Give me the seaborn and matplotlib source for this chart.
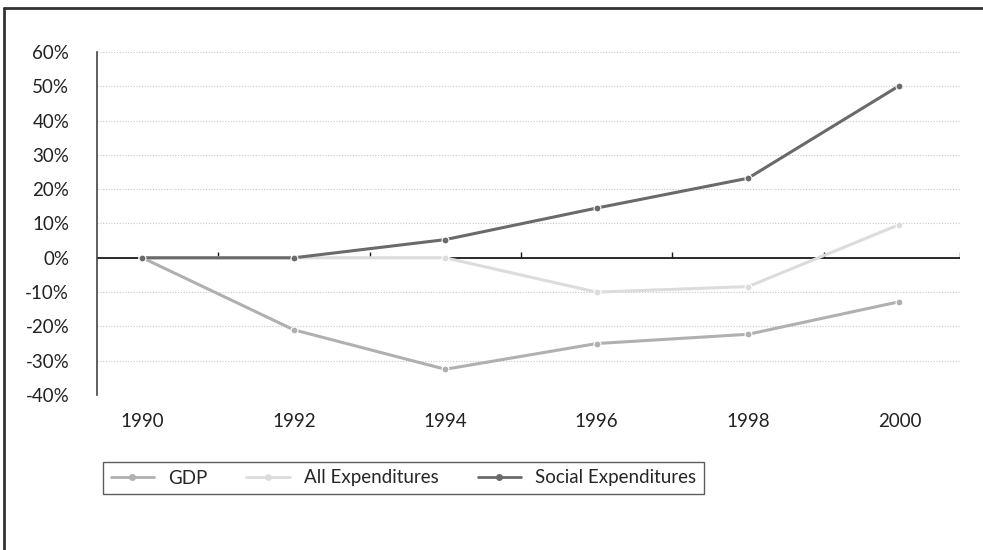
import matplotlib
matplotlib.use("Agg")
import matplotlib.pyplot as plt
import matplotlib.lines as mlines
import numpy as np
import pandas as pd
import seaborn as sns

years = [1990, 1992, 1994, 1996, 1998, 2000]
gdp = [0, -21, -32.5, -25, -22.3, -12.8]
all_exp = [0, 0, 0, -10, -8.4, 9.7]
social_exp = [0, 0, 5.3, 14.5, 23.2, 50.2]
series_names = ["GDP", "All Expenditures", "Social Expenditures"]
y_ticks = [-40, -30, -20, -10, 0, 10, 20, 30, 40, 50, 60]

df = pd.DataFrame({
    "year": years * 3,
    "value": gdp + all_exp + social_exp,
    "series": [series_names[0]] * 6 + [series_names[1]] * 6 + [series_names[2]] * 6,
})

sns.set_theme(style="white")
plt.rcParams["font.family"] = ["Lato", "DejaVu Sans"]

palette = {"GDP": "#b0b0b0", "All Expenditures": "#dcdcdc", "Social Expenditures": "#6a6a6a"}

fig = plt.figure(figsize=(9.83, 5.5), dpi=100)
ax = fig.add_axes([97 / 983, 1 - 395 / 550, (960 - 97) / 983, (395 - 52) / 550])

# dotted horizontal grid
for v in y_ticks:
    ax.axhline(v, color="#c8c8c8", lw=0.8, ls=(0, (1, 1.5)), zorder=0)

# zero baseline with short ticks between categories
ax.axhline(0, color="#1a1a1a", lw=1.3, zorder=1)
odd_years = [1991, 1993, 1995, 1997, 1999, 2000.8]
ax.vlines(odd_years, 0, 1.6, color="#1a1a1a", lw=1.0, zorder=1)

sns.lineplot(data=df, x="year", y="value", hue="series", palette=palette,
             hue_order=series_names, marker="o", markersize=5, linewidth=2.2,
             markeredgewidth=0.8, ax=ax, legend=False, zorder=3)

ax.set_xlim(1989.4, 2000.8)
ax.set_ylim(-40, 60)
ax.set_yticks(y_ticks)
ax.set_yticklabels([f"{v}%" for v in y_ticks])
ax.set_xticks(years)
ax.set_xticklabels([str(y) for y in years])
ax.tick_params(axis="y", length=0, pad=20, labelsize=13.5, labelcolor="#222222")
ax.tick_params(axis="x", length=0, pad=13, labelsize=13.5, labelcolor="#222222")
ax.set_xlabel("")
ax.set_ylabel("")
for s in ["top", "right", "bottom"]:
    ax.spines[s].set_visible(False)
ax.spines["left"].set_color("#444444")
ax.spines["left"].set_linewidth(1.2)

handles = [mlines.Line2D([], [], color=palette[n], marker="o", markersize=4,
                         lw=2.0, label=n) for n in series_names]
leg = fig.legend(handles=handles, loc="upper left",
                 bbox_to_anchor=(103 / 983, 1 - 462 / 550), borderaxespad=0,
                 ncol=3, frameon=True, fancybox=False,
                 fontsize=13.5, handlelength=2.3, handletextpad=0.75,
                 borderpad=0.4, columnspacing=2.1)
leg.get_frame().set_edgecolor("#333333")
leg.get_frame().set_linewidth(1.0)

# outer frame around the figure
fig.add_artist(mlines.Line2D([4 / 983, 1], [1 - 8 / 550, 1 - 8 / 550],
                             transform=fig.transFigure, color="#333333", lw=2))
fig.add_artist(mlines.Line2D([4 / 983, 4 / 983], [0, 1 - 8 / 550],
                             transform=fig.transFigure, color="#333333", lw=2))

fig.savefig("out.png", dpi=100)
